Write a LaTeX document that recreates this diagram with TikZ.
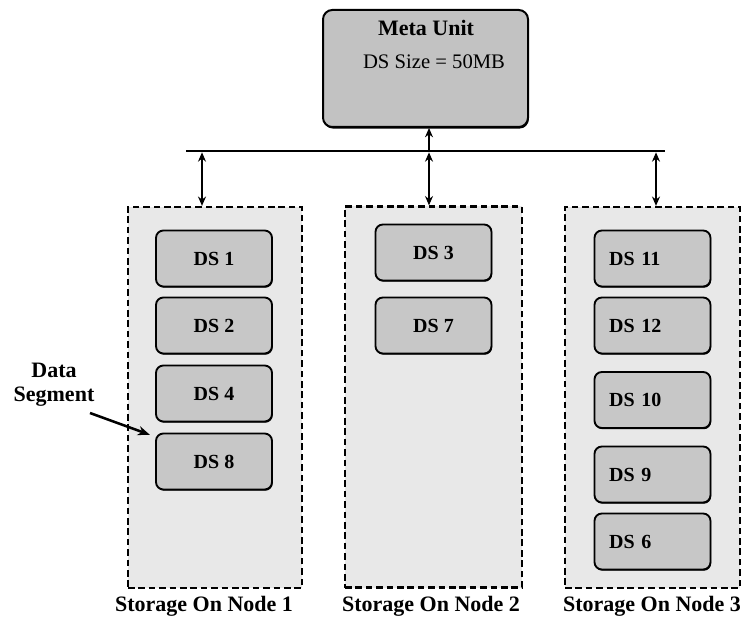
\documentclass[tikz,border=0pt]{standalone}
\usepackage{fontspec}
\setmainfont{Liberation Serif}
\usetikzlibrary{arrows.meta, positioning, shadows}
\tikzset{
  store/.style  = {draw, line width=1.7pt, dash pattern=on 5pt off 2.8pt,
                   fill=black!9, minimum height=285.75pt, inner sep=0pt},
  seg/.style    = {draw, line width=1.4pt, rounded corners=5.5pt, fill=black!22,
                   minimum width=87pt, minimum height=42pt,
                   font=\fontsize{15}{17}\selectfont\bfseries,
                   drop shadow={shadow xshift=0.5pt, shadow yshift=-0.9pt,
                                fill=black, opacity=1}},
  segleft/.style = {seg, text width=65pt, inner xsep=11pt, align=left},
  metabox/.style = {draw, line width=1.5pt, rounded corners=7pt, fill=black!24,
                   minimum width=153.75pt, minimum height=87.75pt,
                   drop shadow={shadow xshift=0.6pt, shadow yshift=-1.2pt,
                                fill=black, opacity=1}},
  lbl/.style    = {font=\fontsize{16.5}{18}\selectfont\bfseries},
  link/.style   = {{Stealth[length=7pt,width=6pt]}-{Stealth[length=7pt,width=6pt]},
                   line width=1pt},
  uplink/.style = {-{Stealth[length=7pt,width=6pt]}, line width=1pt},
  pointer/.style = {-{Stealth[length=9pt,width=7pt]}, line width=1.9pt},
}

\begin{document}
\begin{tikzpicture}[x=0.75pt, y=-0.75pt]
  \useasboundingbox (0,0) rectangle (742,623);

  % meta unit on top
  \node[metabox] (meta) at (425.5,68.5) {};
  \node[lbl] (metaname) at (426,28) {Meta Unit};
  \node[font=\fontsize{15.5}{17}\selectfont] (dssize) at (434,62) {DS Size = 50MB};

  % bus
  \coordinate (busL) at (186,151);
  \coordinate (busR) at (665,151);
  \draw[line width=1pt] (busL) -- (busR);

  % storage nodes
  \node[store, minimum width=130.5pt]  (s1) at (215,397.5) {};
  \node[store, minimum width=132.75pt] (s2) at (433.5,397) {};
  \node[store, minimum width=131.25pt] (s3) at (652.5,397.5) {};
  \node[lbl] (s1lbl) at (204,606) {Storage On Node 1};
  \node[lbl] (s2lbl) at (431,606) {Storage On Node 2};
  \node[lbl] (s3lbl) at (652,606) {Storage On Node 3};

  % taps
  \coordinate (tap1) at (202,151);
  \coordinate (tap2) at (429,151);
  \coordinate (tap3) at (656,151);
  \draw[uplink] (tap2) -- (tap2 |- meta.south);
  \draw[link] ([yshift=-1pt]tap1) -- (tap1 |- s1.north);
  \draw[link] ([yshift=-1pt]tap2) -- (tap2 |- s2.north);
  \draw[link] ([yshift=-1pt]tap3) -- (tap3 |- s3.north);

  % data segments
  \foreach \n/\y in {1/258.5, 2/325.5, 4/393.5, 8/461.5}
    \node[seg] (ds\n) at (214,\y) {DS \n};
  \foreach \n/\y in {3/252.5, 7/325.5}
    \node[seg] (ds\n) at (433.5,\y) {DS \n};
  \foreach \n/\y in {11/258.5, 12/325.5, 10/400, 9/474.5, 6/541.5}
    \node[segleft] (ds\n) at (652.5,\y) {DS \n};

  % pointer to one segment
  \node[lbl, align=center] (dlabel) at (54,385) {Data\\Segment};
  \coordinate (dtail) at (90,413);
  \draw[pointer, shorten >=1pt] (dtail) -- ([xshift=-3pt,yshift=-2pt]ds8.north west);
\end{tikzpicture}
\end{document}
